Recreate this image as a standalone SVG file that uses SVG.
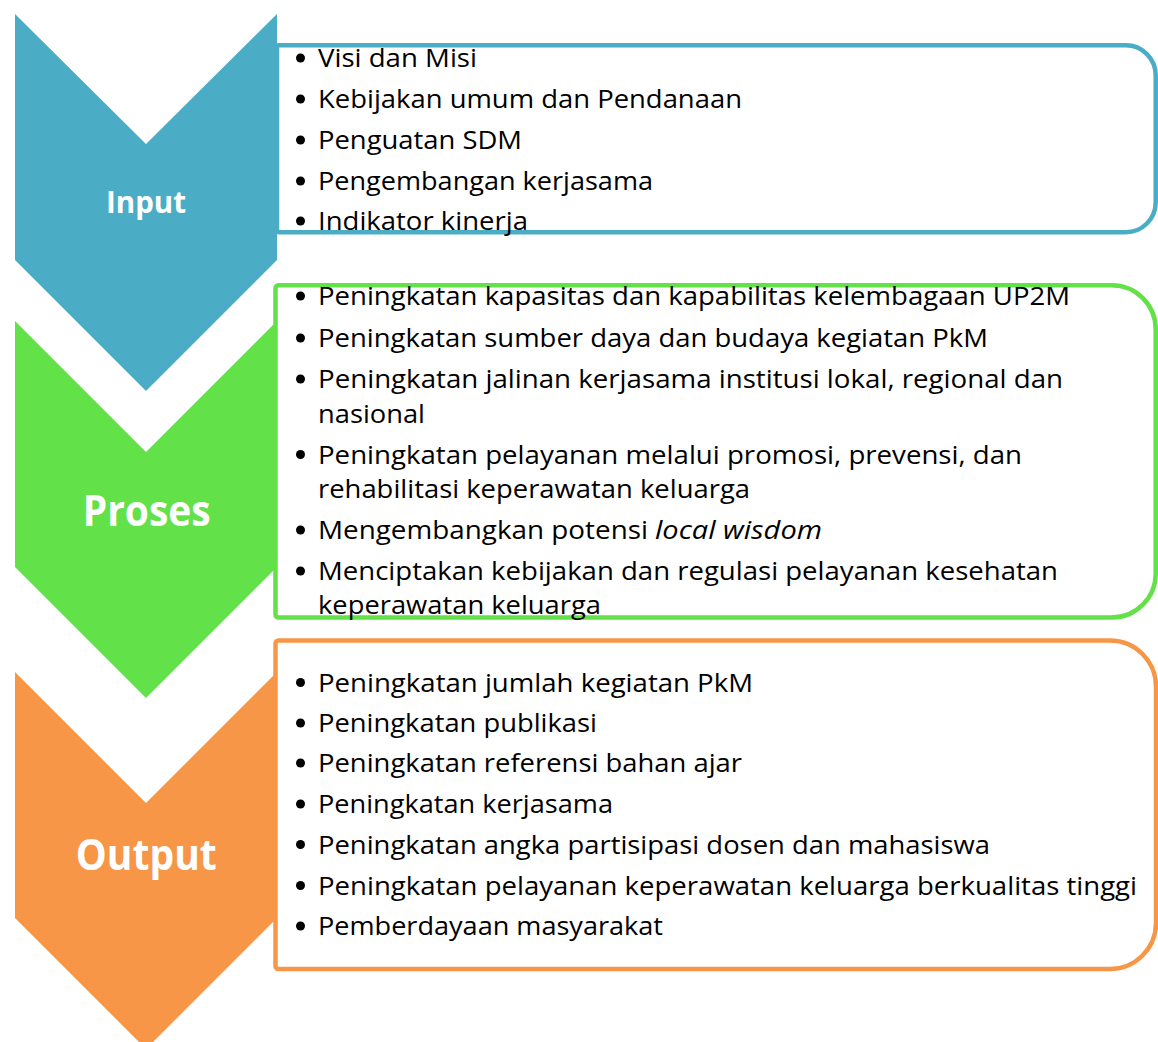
<svg xmlns="http://www.w3.org/2000/svg" width="1158" height="1042" viewBox="0 0 1158 1042">
<style>
.lbl{font-family:"Open Sans","Liberation Sans",sans-serif;font-weight:bold;fill:#ffffff;text-anchor:middle}
.t{font-family:"Open Sans","Liberation Sans",sans-serif;font-size:26px;fill:#000000}
.it{font-style:italic}
.box{fill:#ffffff;stroke-width:4.5}
.blue{fill:#4BACC6}
.green{fill:#62E148}
.orange{fill:#F79646}
.b{fill:#000000}
</style>
<rect width="1158" height="1042" fill="#ffffff"/>
<g id="connectors"/>
<g id="input">
  <polygon class="blue" points="15,14 146,144 277,14 277,260 146,391 15,260"/>
  <text class="lbl" x="146" y="213" font-size="30" textLength="80" lengthAdjust="spacingAndGlyphs">Input</text>
</g>
<g id="proses">
  <polygon class="green" points="15,321 146,452 277,321 277,567 146,698 15,567"/>
  <text class="lbl" x="146.7" y="525.5" font-size="43" textLength="128" lengthAdjust="spacingAndGlyphs">Proses</text>
</g>
<g id="output">
  <polygon class="orange" points="15,672 146,803 277,672 277,918 146,1049 15,918"/>
  <text class="lbl" x="146.3" y="870" font-size="43" textLength="141" lengthAdjust="spacingAndGlyphs">Output</text>
</g>
<g id="input-list">
  <path class="box" stroke="#4BACC6" d="M279,45.3 H1125.7 A30,30 0 0 1 1155.7,75.3 V202.3 A30,30 0 0 1 1125.7,232.3 H279 A2,2 0 0 1 277,230.3 V47.3 A2,2 0 0 1 279,45.3 Z"/>
  <circle class="b" cx="300.5" cy="58" r="4.5"/>
  <circle class="b" cx="300.5" cy="99" r="4.5"/>
  <circle class="b" cx="300.5" cy="140" r="4.5"/>
  <circle class="b" cx="300.5" cy="181" r="4.5"/>
  <circle class="b" cx="300.5" cy="221" r="4.5"/>
  <text class="t" x="318" y="67" textLength="159" lengthAdjust="spacingAndGlyphs">Visi dan Misi</text>
  <text class="t" x="318" y="108" textLength="424" lengthAdjust="spacingAndGlyphs">Kebijakan umum dan Pendanaan</text>
  <text class="t" x="318" y="149" textLength="204" lengthAdjust="spacingAndGlyphs">Penguatan SDM</text>
  <text class="t" x="318" y="190" textLength="335" lengthAdjust="spacingAndGlyphs">Pengembangan kerjasama</text>
  <text class="t" x="318" y="230" textLength="210" lengthAdjust="spacingAndGlyphs">Indikator kinerja</text>
</g>
<g id="proses-list">
  <path class="box" stroke="#62E148" d="M278.5,285.3 H1111.7 A44,44 0 0 1 1155.7,329.3 V573.5 A44,44 0 0 1 1111.7,617.5 H278.5 A3,3 0 0 1 275.5,614.5 V288.3 A3,3 0 0 1 278.5,285.3 Z"/>
  <circle class="b" cx="300.5" cy="296" r="4.5"/>
  <circle class="b" cx="300.5" cy="338" r="4.5"/>
  <circle class="b" cx="300.5" cy="379" r="4.5"/>
  <circle class="b" cx="300.5" cy="454.5" r="4.5"/>
  <circle class="b" cx="300.5" cy="530" r="4.5"/>
  <circle class="b" cx="300.5" cy="571" r="4.5"/>
  <text class="t" x="318" y="305" textLength="752" lengthAdjust="spacingAndGlyphs">Peningkatan kapasitas dan kapabilitas kelembagaan UP2M</text>
  <text class="t" x="318" y="347" textLength="670" lengthAdjust="spacingAndGlyphs">Peningkatan sumber daya dan budaya kegiatan PkM</text>
  <text class="t" x="318" y="388" textLength="745" lengthAdjust="spacingAndGlyphs">Peningkatan jalinan kerjasama institusi lokal, regional dan</text>
  <text class="t" x="318" y="422.5" textLength="107" lengthAdjust="spacingAndGlyphs">nasional</text>
  <text class="t" x="318" y="463.5" textLength="704" lengthAdjust="spacingAndGlyphs">Peningkatan pelayanan melalui promosi, prevensi, dan</text>
  <text class="t" x="318" y="497.5" textLength="432" lengthAdjust="spacingAndGlyphs">rehabilitasi keperawatan keluarga</text>
  <text class="t" x="318" y="539" textLength="330" lengthAdjust="spacingAndGlyphs">Mengembangkan potensi</text>
  <text class="t it" x="655" y="539" textLength="167" lengthAdjust="spacingAndGlyphs">local wisdom</text>
  <text class="t" x="318" y="580" textLength="740" lengthAdjust="spacingAndGlyphs">Menciptakan kebijakan dan regulasi pelayanan kesehatan</text>
  <text class="t" x="318" y="614" textLength="283" lengthAdjust="spacingAndGlyphs">keperawatan keluarga</text>
</g>
<g id="output-list">
  <path class="box" stroke="#F79646" d="M278.5,640.5 H1110 A46,46 0 0 1 1156,686.5 V923 A46,46 0 0 1 1110,969 H278.5 A3,3 0 0 1 275.5,966 V643.5 A3,3 0 0 1 278.5,640.5 Z"/>
  <circle class="b" cx="300.5" cy="682.5" r="4.5"/>
  <circle class="b" cx="300.5" cy="723" r="4.5"/>
  <circle class="b" cx="300.5" cy="763" r="4.5"/>
  <circle class="b" cx="300.5" cy="804" r="4.5"/>
  <circle class="b" cx="300.5" cy="844.5" r="4.5"/>
  <circle class="b" cx="300.5" cy="885.5" r="4.5"/>
  <circle class="b" cx="300.5" cy="926" r="4.5"/>
  <text class="t" x="318" y="691.5" textLength="435" lengthAdjust="spacingAndGlyphs">Peningkatan jumlah kegiatan PkM</text>
  <text class="t" x="318" y="732" textLength="279" lengthAdjust="spacingAndGlyphs">Peningkatan publikasi</text>
  <text class="t" x="318" y="772" textLength="424" lengthAdjust="spacingAndGlyphs">Peningkatan referensi bahan ajar</text>
  <text class="t" x="318" y="813" textLength="295" lengthAdjust="spacingAndGlyphs">Peningkatan kerjasama</text>
  <text class="t" x="318" y="853.5" textLength="672" lengthAdjust="spacingAndGlyphs">Peningkatan angka partisipasi dosen dan mahasiswa</text>
  <text class="t" x="318" y="894.5" textLength="819" lengthAdjust="spacingAndGlyphs">Peningkatan pelayanan keperawatan keluarga berkualitas tinggi</text>
  <text class="t" x="318" y="935" textLength="345" lengthAdjust="spacingAndGlyphs">Pemberdayaan masyarakat</text>
</g>
</svg>
